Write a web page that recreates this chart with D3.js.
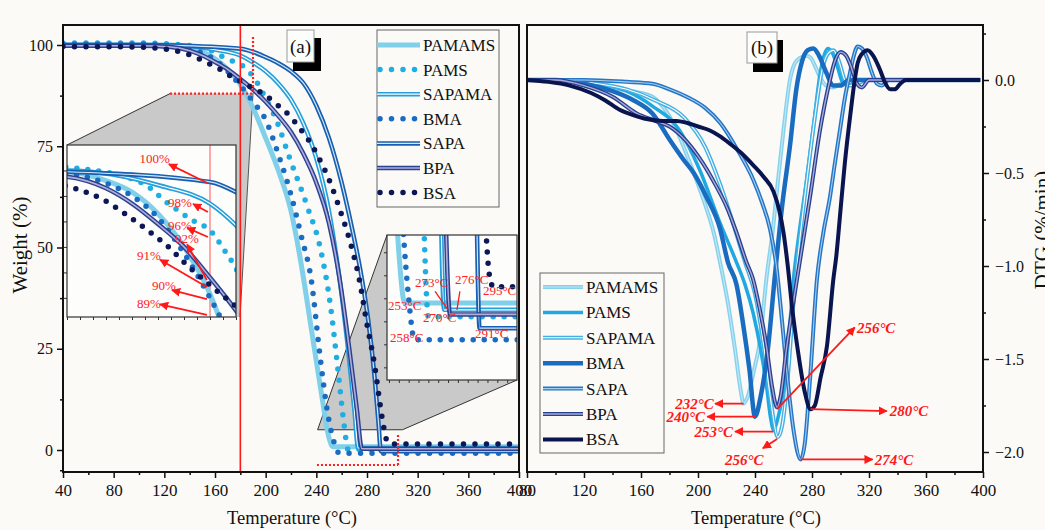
<!DOCTYPE html>
<html><head><meta charset="utf-8">
<script src="https://cdn.jsdelivr.net/npm/d3@7"></script>
<style>body{margin:0;background:#fbfaf7}svg{display:block}</style>
</head><body>
<svg id="c" width="1045" height="530"></svg>
<script>
// ---------------- DATA ----------------
const seriesNames = ["PAMAMS","PAMS","SAPAMA","BMA","SAPA","BPA","BSA"];
const tempTicksA = [40,80,120,160,200,240,280,320,360,400];
const tempTicksB = [80,120,160,200,240,280,320,360,400];
const weightTicks = [0,25,50,75,100];
const dtgTicks = [0,-0.5,-1,-1.5,-2];

// TGA (Temperature, Weight %)
const tgaPAMAMS = [[40,100],[100,100],[125,99.9],[140,99.2],[150,98.3],[160,96.6],[170,94],[180,90.3],[190,84.5],[200,77],[210,69],[220,59],[228,46],[236,30],[244,14],[250,3],[253,0.8],[400,0.8]];
const tgaPAMS   = [[40,100.5],[100,100.5],[128,100.2],[154,99],[164,97.4],[174,96],[180,95.3],[186,93.6],[190,92.3],[198,88],[209,81],[219,72],[233,60],[243,50],[251,36],[257,20],[262,6],[265,0.2],[400,0.2]];
const tgaSAPAMA = [[40,100],[100,100],[125,100],[161,98.8],[180,97.4],[190,95.7],[200,93.5],[210,90.5],[220,86.5],[230,80.5],[240,72],[250,59],[258,43],[265,25],[270,10],[273,0.5],[400,0.5]];
const tgaBMA    = [[40,100.2],[100,100.2],[125,99.8],[140,99],[150,98],[160,96.3],[170,93.5],[180,90],[190,86],[200,81.5],[210,73],[220,63],[228,53],[236,42],[243,23],[249,9],[255,1],[258,-0.8],[400,-0.8]];
const tgaSAPA   = [[40,100],[100,100],[125,99.9],[180,99.1],[190,98.3],[200,97],[210,95.5],[220,93.5],[230,90.5],[240,85],[250,77],[260,66],[268,55],[275,44],[281,32],[286,18],[289,7],[291,-0.3],[400,-0.3]];
const tgaBPA    = [[40,99.8],[100,99.8],[125,99.5],[140,98.6],[150,97.4],[160,95.8],[170,94],[180,91.6],[190,89],[200,86],[210,82.5],[220,78.5],[230,73],[240,66],[250,56],[258,43],[266,25],[272,10],[276,0.3],[400,0.3]];
const tgaBSA    = [[40,99.6],[100,99.5],[115,99.2],[128,98.6],[139,97.7],[148,96.5],[156,95.3],[164,94],[171,92.6],[180,91],[189,89.5],[198,88],[210,85],[219,82.5],[228,79],[235,76],[243,71.5],[251,66],[259,59],[267,51],[274,42],[280,31],[286,21],[290,12],[293,6],[296,2],[298,1.5],[400,1.5]];

// DTG (Temperature, %/min)
const dtgPAMAMS = [[80,0],[100,0],[115,-0.01],[130,-0.03],[145,-0.05],[160,-0.07],[168,-0.09],[177,-0.16],[185,-0.27],[192,-0.4],[199,-0.54],[205,-0.67],[211,-0.82],[216,-1.0],[221,-1.2],[226,-1.45],[230,-1.67],[232,-1.74],[235,-1.7],[239,-1.57],[243.5,-1.4],[248,-1.07],[252.6,-0.8],[256,-0.55],[260,-0.27],[264.5,0],[268,0.09],[272,0.12],[276,0.13],[279,0.12],[283,0.06],[286,0.01],[290,-0.03],[295,-0.04],[300,-0.02],[306,0],[398,0]];
const dtgPAMS   = [[80,0],[110,0],[130,-0.02],[150,-0.06],[168,-0.14],[187,-0.27],[201,-0.48],[215.5,-0.77],[227,-0.98],[233,-1.1],[238.6,-1.25],[244,-1.45],[248,-1.64],[251,-1.82],[253,-1.88],[256,-1.82],[262,-1.55],[267,-1.07],[271,-0.82],[276,-0.55],[281,-0.25],[285.6,0.03],[288,0.12],[291,0.17],[294,0.15],[297.5,0.08],[302,-0.02],[306,-0.03],[312,0],[398,0]];
const dtgSAPAMA = [[80,0],[110,0],[130,-0.02],[150,-0.05],[170,-0.11],[190,-0.2],[205,-0.36],[215,-0.55],[225,-0.78],[233,-0.98],[240,-1.15],[246,-1.42],[251,-1.72],[256,-1.92],[259,-1.86],[263,-1.6],[267,-1.2],[272,-0.82],[277,-0.5],[282,-0.2],[287,0.05],[291,0.14],[295,0.16],[299,0.1],[303,0.0],[307,-0.03],[312,-0.02],[318,0],[398,0]];
const dtgBMA    = [[80,0],[100,0],[120,-0.02],[140,-0.06],[155,-0.11],[168,-0.18],[180,-0.32],[190,-0.43],[197,-0.5],[206,-0.63],[215.5,-0.8],[221,-0.98],[227,-1.1],[232,-1.33],[236,-1.55],[240,-1.81],[244,-1.7],[249,-1.45],[254,-1.05],[259,-0.68],[264.6,-0.35],[269,-0.05],[273,0.1],[277,0.16],[281,0.17],[285,0.13],[290,0.04],[295,-0.03],[300,-0.03],[306,0],[398,0]];
const dtgSAPA   = [[80,0],[120,0],[150,-0.01],[168,-0.02],[180,-0.05],[192,-0.09],[205,-0.15],[215.5,-0.23],[228,-0.38],[239,-0.54],[245,-0.66],[250.5,-0.8],[255,-1.0],[259,-1.3],[263,-1.62],[267,-1.88],[272,-2.04],[275,-1.95],[278.6,-1.61],[283.5,-1.07],[288,-0.82],[292.6,-0.63],[296,-0.45],[299.6,-0.27],[303,-0.1],[306.7,0.04],[309,0.12],[312,0.18],[315,0.17],[318.6,0.12],[322,0.04],[325.6,-0.02],[329,-0.03],[334,0],[398,0]];
const dtgBPA    = [[80,0],[100,0],[120,-0.03],[140,-0.09],[157,-0.18],[170,-0.22],[180,-0.25],[192,-0.33],[203.6,-0.45],[212,-0.56],[220,-0.68],[227,-0.82],[234,-0.98],[238.6,-1.07],[243,-1.22],[248,-1.43],[252,-1.65],[255.5,-1.76],[258,-1.7],[262,-1.45],[269.5,-1.07],[278.6,-0.63],[285.6,-0.27],[292.6,0.0],[296,0.1],[300,0.15],[304,0.13],[307,0.08],[311.6,-0.02],[315,-0.04],[320,0],[398,0]];
const dtgBSA    = [[80,0],[95,-0.01],[110,-0.03],[125,-0.07],[135,-0.11],[145,-0.16],[155,-0.19],[164,-0.21],[175,-0.22],[185,-0.22],[192,-0.23],[200,-0.25],[208,-0.27],[215,-0.3],[222,-0.34],[230,-0.39],[239,-0.46],[246,-0.52],[253,-0.6],[257,-0.7],[260,-0.82],[263,-1.0],[266,-1.22],[270,-1.45],[275,-1.68],[279,-1.77],[282,-1.75],[286,-1.6],[290.5,-1.43],[295,-1.07],[297,-0.95],[300,-0.7],[303,-0.45],[307,-0.18],[310,0.0],[312,0.09],[315,0.14],[319,0.16],[323,0.13],[328,0.05],[331,-0.01],[335,-0.05],[338,-0.05],[342,-0.02],[346,0],[398,0]];

// annotations (data coordinates)
const annotB = [
  {label:"232°C", from:[232,-1.74], to:[212,-1.74], text:[211,-1.74], anchor:"end"},
  {label:"240°C", from:[240,-1.81], to:[206.5,-1.81], text:[205,-1.81], anchor:"end"},
  {label:"253°C", from:[253,-1.89], to:[226,-1.89], text:[224.5,-1.89], anchor:"end"},
  {label:"256°C", from:[255.5,-1.93], to:[245.5,-1.98], text:[232.5,-2.04], anchor:"middle"},
  {label:"256°C", from:[255.5,-1.77], to:[310,-1.33], text:[311.5,-1.33], anchor:"start"},
  {label:"280°C", from:[279,-1.77], to:[332.5,-1.78], text:[334.5,-1.78], anchor:"start"},
  {label:"274°C", from:[272,-2.04], to:[322.5,-2.04], text:[324,-2.04], anchor:"start"}
];
const annotL = [
  {label:"100%", from:[179.2,99.0], to:[164.2,100.5], text:[164.6,100.98], anchor:"end"},
  {label:"98%", from:[179.2,96.74], to:[173.5,97.37], text:[163.8,97.53], anchor:"start"},
  {label:"96%", from:[179.2,94.78], to:[171.2,95.49], text:[163.8,95.72], anchor:"start"},
  {label:"92%", from:[178.8,91.4], to:[171.2,94.2], text:[166.5,94.7], anchor:"start"},
  {label:"91%", from:[178.8,90.85], to:[160.8,93.0], text:[151.9,93.37], anchor:"start"},
  {label:"90%", from:[178.8,89.9], to:[165.4,90.6], text:[157.7,91.0], anchor:"start"},
  {label:"89%", from:[178.8,88.66], to:[160.8,89.5], text:[151.9,89.6], anchor:"start"}
];
const annotR = [
  {label:"273°C", text:[258.2,1.71], line:[[268.4,1.3],[275,0.5]]},
  {label:"276°C", text:[278.5,1.80], line:[[281,1.3],[279.5,0.5]]},
  {label:"295°C", text:[292.7,1.36]},
  {label:"253°C", text:[244.5,0.71]},
  {label:"270°C", text:[262.3,0.15]},
  {label:"258°C", text:[245.5,-0.68]},
  {label:"291°C", text:[288.7,-0.51]}
];

// ---------------- STYLES ----------------
const tga = {PAMAMS:tgaPAMAMS,PAMS:tgaPAMS,SAPAMA:tgaSAPAMA,BMA:tgaBMA,SAPA:tgaSAPA,BPA:tgaBPA,BSA:tgaBSA};
const dtg = {PAMAMS:dtgPAMAMS,PAMS:dtgPAMS,SAPAMA:dtgSAPAMA,BMA:dtgBMA,SAPA:dtgSAPA,BPA:dtgBPA,BSA:dtgBSA};
const stA = {
  PAMAMS:{type:"solid",color:"#80d0ea",w:5},
  PAMS:{type:"dot",color:"#1eaee2"},
  SAPAMA:{type:"double",color:"#249fdb",w:4.5,inner:"#ffffff",iw:1.2},
  BMA:{type:"dot",color:"#1a6cc2"},
  SAPA:{type:"double",color:"#175fb0",w:4.5,inner:"#d6e6f6",iw:1.2},
  BPA:{type:"double",color:"#2a4290",w:4.5,inner:"#b2aedc",iw:1.6},
  BSA:{type:"dot",color:"#0c1856"}
};
const stB = {
  PAMAMS:{type:"double",color:"#86d1ec",w:4,inner:"#bfe6f5",iw:1.2},
  PAMS:{type:"solid",color:"#1fa8e2",w:3.5},
  SAPAMA:{type:"double",color:"#45b0e2",w:4,inner:"#ffffff",iw:1.1},
  BMA:{type:"solid",color:"#1a6cc0",w:4.5},
  SAPA:{type:"double",color:"#2476c6",w:4,inner:"#a9cdef",iw:1.1},
  BPA:{type:"double",color:"#26418f",w:4,inner:"#aca8d8",iw:1.4},
  BSA:{type:"solid",color:"#0a154f",w:4}
};

const serif = "'Liberation Serif','Times New Roman',serif";
const svg = d3.select("#c");
svg.append("rect").attr("width",1045).attr("height",530).attr("fill","#fbfaf7");

const defs = svg.append("defs");
defs.append("marker").attr("id","ah").attr("viewBox","0 0 10 10").attr("refX",9).attr("refY",5)
  .attr("markerWidth",5).attr("markerHeight",5).attr("orient","auto-start-reverse")
  .append("path").attr("d","M0,0L10,5L0,10z").attr("fill","#ff1a1a");

// ---------------- SCALES ----------------
const PA = {x0:63,x1:519,y0:25,y1:472};
const PB = {x0:527,x1:983,y0:25,y1:472};
const xA = d3.scaleLinear([40,400],[63,519]);
const yA = d3.scaleLinear([0,100],[450,45]);
const xB = d3.scaleLinear([80,400],[527,983]);
const yB = d3.scaleLinear([0,-2],[80,452]);
const insL = {x0:67,x1:236,y0:145,y1:317};
const insR = {x0:387,x1:517,y0:235,y1:380};
const xL = d3.scaleLinear([125,190],[insL.x0,insL.x1]);
const yL = d3.scaleLinear([88.5,102],[insL.y1,insL.y0]);
const xR = d3.scaleLinear([244,310],[insR.x0,insR.x1]);
const yR = d3.scaleLinear([-2.55,3.75],[insR.y1,insR.y0]);

function clip(id,b){defs.append("clipPath").attr("id",id).append("rect")
  .attr("x",b.x0).attr("y",b.y0).attr("width",b.x1-b.x0).attr("height",b.y1-b.y0);}
clip("cA",PA); clip("cB",PB); clip("cL",insL); clip("cR",insR);

function drawLine(g,data,xs,ys,st,dotGap){
  const line = d3.line().x(d=>xs(d[0])).y(d=>ys(d[1])).curve(d3.curveMonotoneX);
  const p = line(data);
  if(st.type==="dot"){
    g.append("path").attr("d",p).attr("fill","none").attr("stroke",st.color)
      .attr("stroke-width",5.5).attr("stroke-linecap","round").attr("stroke-dasharray","0 "+(dotGap||11.5));
  } else {
    g.append("path").attr("d",p).attr("fill","none").attr("stroke",st.color)
      .attr("stroke-width",st.w).attr("stroke-linejoin","round");
    if(st.inner) g.append("path").attr("d",p).attr("fill","none").attr("stroke",st.inner)
      .attr("stroke-width",st.iw).attr("stroke-linejoin","round");
  }
}
function legendSample(g,x0,x1,y,st){
  if(st.type==="dot"){
    g.append("line").attr("x1",x0+3).attr("x2",x1).attr("y1",y).attr("y2",y).attr("stroke",st.color)
      .attr("stroke-width",5.5).attr("stroke-linecap","round").attr("stroke-dasharray","0 11.5");
  } else {
    g.append("line").attr("x1",x0).attr("x2",x1).attr("y1",y).attr("y2",y).attr("stroke",st.color).attr("stroke-width",st.w);
    if(st.inner) g.append("line").attr("x1",x0).attr("x2",x1).attr("y1",y).attr("y2",y).attr("stroke",st.inner).attr("stroke-width",st.iw);
  }
}
function styleAxis(g,fs){
  g.select(".domain").remove();
  g.selectAll("line").attr("stroke","#111").attr("stroke-width",1.5);
  g.selectAll("text").attr("font-family",serif).attr("font-size",fs||16).attr("fill","#111");
}

// ---------------- PANEL A ----------------
const gA = svg.append("g");
// gray zoom polygons
const lp = [[xA(124.5),yA(88)],[xA(190),yA(88)],[insL.x1+4,insL.y1],[insL.x0,insL.y1],[insL.x0,insL.y0]];
gA.append("polygon").attr("points",lp.map(p=>p.join(",")).join(" ")).attr("fill","#c9c9c9");
gA.append("line").attr("x1",lp[0][0]).attr("y1",lp[0][1]).attr("x2",lp[4][0]).attr("y2",lp[4][1]).attr("stroke","#333").attr("stroke-width",1);
gA.append("line").attr("x1",lp[1][0]).attr("y1",lp[1][1]).attr("x2",lp[2][0]).attr("y2",lp[2][1]).attr("stroke","#555").attr("stroke-width",1);
const rp = [[xA(241),yA(5)],[insR.x0,insR.y0],[insR.x0,insR.y1],[insR.x1,insR.y1],[xA(308),yA(5)]];
gA.append("polygon").attr("points",rp.map(p=>p.join(",")).join(" ")).attr("fill","#c9c9c9");
gA.append("line").attr("x1",rp[0][0]).attr("y1",rp[0][1]).attr("x2",rp[1][0]).attr("y2",rp[1][1]).attr("stroke","#333").attr("stroke-width",1);
gA.append("line").attr("x1",rp[4][0]).attr("y1",rp[4][1]).attr("x2",rp[3][0]).attr("y2",rp[3][1]).attr("stroke","#333").attr("stroke-width",1);
gA.append("line").attr("x1",rp[0][0]).attr("y1",rp[0][1]).attr("x2",rp[4][0]).attr("y2",rp[4][1]).attr("stroke","#333").attr("stroke-width",1);

const curvesA = gA.append("g").attr("clip-path","url(#cA)");
seriesNames.forEach(n=>drawLine(curvesA,tga[n],xA,yA,stA[n]));

// red lines
gA.append("line").attr("x1",xA(180)).attr("x2",xA(180)).attr("y1",PA.y0).attr("y2",PA.y1).attr("stroke","#ff1a1a").attr("stroke-width",1.6);
const redDot = (x1,y1,x2,y2)=>gA.append("line").attr("x1",x1).attr("y1",y1).attr("x2",x2).attr("y2",y2)
  .attr("stroke","#ff2020").attr("stroke-width",2.2).attr("stroke-dasharray","2 2");
redDot(xA(190),yA(102),xA(190),yA(88));
redDot(xA(124.5),yA(88),xA(190),yA(88));
redDot(xA(240.5),yA(-3.7),xA(304.5),yA(-3.7));
redDot(xA(304.5),yA(-3.7),xA(304.5),yA(4.2));

// left inset
const gL = gA.append("g");
gL.append("rect").attr("x",insL.x0).attr("y",insL.y0).attr("width",insL.x1-insL.x0).attr("height",insL.y1-insL.y0).attr("fill","#fdfdfc");
const cL = gL.append("g").attr("clip-path","url(#cL)");
cL.append("line").attr("x1",xL(180)).attr("x2",xL(180)).attr("y1",insL.y0).attr("y2",insL.y1).attr("stroke","#ff4040").attr("stroke-width",0.9);
seriesNames.forEach(n=>drawLine(cL,tga[n],xL,yL,stA[n],11));
gL.append("rect").attr("x",insL.x0).attr("y",insL.y0).attr("width",insL.x1-insL.x0).attr("height",insL.y1-insL.y0).attr("fill","none").attr("stroke","#333").attr("stroke-width",1.2);
const lbA = gL.append("g").attr("transform",`translate(0,${insL.y1})`).call(d3.axisBottom(xL).tickValues(d3.range(125,191,5)).tickSize(3).tickFormat(""));
lbA.select(".domain").remove(); lbA.selectAll("line").attr("stroke","#333");
const llA = gL.append("g").attr("transform",`translate(${insL.x0},0)`).call(d3.axisLeft(yL).tickValues(d3.range(90,102,2)).tickSize(3).tickFormat(""));
llA.select(".domain").remove(); llA.selectAll("line").attr("stroke","#333");
annotL.forEach(a=>{
  gL.append("line").attr("x1",xL(a.from[0])).attr("y1",yL(a.from[1])).attr("x2",xL(a.to[0])).attr("y2",yL(a.to[1]))
    .attr("stroke","#ff1a1a").attr("stroke-width",1.8).attr("marker-end","url(#ah)");
  gL.append("text").attr("x",xL(a.text[0])).attr("y",yL(a.text[1])).attr("dy","0.35em").attr("text-anchor",a.anchor)
    .attr("font-family",serif).attr("font-size",13).attr("fill","#ff2020").text(a.label);
});

// right inset
const gR = gA.append("g");
gR.append("rect").attr("x",insR.x0).attr("y",insR.y0).attr("width",insR.x1-insR.x0).attr("height",insR.y1-insR.y0).attr("fill","#fdfdfc");
const cR = gR.append("g").attr("clip-path","url(#cR)");
seriesNames.forEach(n=>drawLine(cR,tga[n],xR,yR,stA[n],11));
annotR.forEach(a=>{
  if(a.line) cR.append("line").attr("x1",xR(a.line[0][0])).attr("y1",yR(a.line[0][1])).attr("x2",xR(a.line[1][0])).attr("y2",yR(a.line[1][1]))
    .attr("stroke","#ff1a1a").attr("stroke-width",1.3);
  cR.append("text").attr("x",xR(a.text[0])).attr("y",yR(a.text[1])).attr("dy","0.35em")
    .attr("font-family",serif).attr("font-size",13).attr("fill","#ff2020").text(a.label);
});
gR.append("rect").attr("x",insR.x0).attr("y",insR.y0).attr("width",insR.x1-insR.x0).attr("height",insR.y1-insR.y0).attr("fill","none").attr("stroke","#333").attr("stroke-width",1.2);
const rbA = gR.append("g").attr("transform",`translate(0,${insR.y1})`).call(d3.axisBottom(xR).tickValues(d3.range(245,310,5)).tickSize(3).tickFormat(""));
rbA.select(".domain").remove(); rbA.selectAll("line").attr("stroke","#333");
const rlA = gR.append("g").attr("transform",`translate(${insR.x0},0)`).call(d3.axisLeft(yR).tickValues(d3.range(-2,4,1)).tickSize(3).tickFormat(""));
rlA.select(".domain").remove(); rlA.selectAll("line").attr("stroke","#333");

// frame + axes A
gA.append("rect").attr("x",PA.x0).attr("y",PA.y0).attr("width",PA.x1-PA.x0).attr("height",PA.y1-PA.y0).attr("fill","none").attr("stroke","#111").attr("stroke-width",2);
styleAxis(gA.append("g").attr("transform",`translate(0,${PA.y1})`).call(d3.axisBottom(xA).tickValues(tempTicksA).tickSize(6).tickPadding(6)),17);
styleAxis(gA.append("g").attr("transform",`translate(0,${PA.y1})`).call(d3.axisBottom(xA).tickValues(d3.range(60,400,40)).tickSize(3).tickFormat("")));
styleAxis(gA.append("g").attr("transform",`translate(${PA.x0},0)`).call(d3.axisLeft(yA).tickValues(weightTicks).tickSize(6).tickPadding(4)),16);
styleAxis(gA.append("g").attr("transform",`translate(${PA.x0},0)`).call(d3.axisLeft(yA).tickValues([-5,12.5,37.5,62.5,87.5]).tickSize(3).tickFormat("")));

// legend A
const lgA = gA.append("g");
lgA.append("rect").attr("x",377).attr("y",30).attr("width",122).attr("height",177).attr("fill","#fbfaf7").attr("stroke","#666").attr("stroke-width",1);
seriesNames.forEach((n,i)=>{
  const y = 45 + i*24.6;
  legendSample(lgA,377,420,y,stA[n]);
  lgA.append("text").attr("x",423).attr("y",y).attr("dy","0.35em").attr("font-family",serif).attr("font-size",17).attr("fill","#111").text(n);
});
// (a) label
gA.append("rect").attr("x",293).attr("y",38).attr("width",28).attr("height",33).attr("fill","#000");
gA.append("rect").attr("x",287).attr("y",30).attr("width",27).attr("height",32).attr("fill","#fdfdfc").attr("stroke","#999").attr("stroke-width",1);
gA.append("text").attr("x",300.5).attr("y",46).attr("dy","0.35em").attr("text-anchor","middle").attr("font-family",serif).attr("font-size",19).attr("fill","#111").text("(a)");

// ---------------- PANEL B ----------------
const gB = svg.append("g");
const curvesB = gB.append("g").attr("clip-path","url(#cB)");
seriesNames.forEach(n=>drawLine(curvesB,dtg[n],xB,yB,stB[n]));
annotB.forEach(a=>{
  gB.append("line").attr("x1",xB(a.from[0])).attr("y1",yB(a.from[1])).attr("x2",xB(a.to[0])).attr("y2",yB(a.to[1]))
    .attr("stroke","#ff1a1a").attr("stroke-width",1.8).attr("marker-end","url(#ah)");
  gB.append("text").attr("x",xB(a.text[0])).attr("y",yB(a.text[1])).attr("dy","0.35em").attr("text-anchor",a.anchor)
    .attr("font-family",serif).attr("font-size",15).attr("font-weight","bold").attr("font-style","italic").attr("fill","#ff1a1a").text(a.label);
});
gB.append("rect").attr("x",PB.x0).attr("y",PB.y0).attr("width",PB.x1-PB.x0).attr("height",PB.y1-PB.y0).attr("fill","none").attr("stroke","#111").attr("stroke-width",2);
styleAxis(gB.append("g").attr("transform",`translate(0,${PB.y1})`).call(d3.axisBottom(xB).tickValues(tempTicksB).tickSize(6).tickPadding(6)),17);
styleAxis(gB.append("g").attr("transform",`translate(0,${PB.y1})`).call(d3.axisBottom(xB).tickValues(d3.range(100,400,40)).tickSize(3).tickFormat("")));
styleAxis(gB.append("g").attr("transform",`translate(${PB.x1},0)`).call(d3.axisRight(yB).tickValues(dtgTicks).tickSize(6).tickPadding(6).tickFormat(d3.format(".1f"))),16);
styleAxis(gB.append("g").attr("transform",`translate(${PB.x1},0)`).call(d3.axisRight(yB).tickValues([0.25,-0.25,-0.75,-1.25,-1.75]).tickSize(3).tickFormat("")));

// legend B
const lgB = gB.append("g");
lgB.append("rect").attr("x",540).attr("y",273).attr("width",124).attr("height",180).attr("fill","#fbfaf7").attr("stroke","#666").attr("stroke-width",1);
seriesNames.forEach((n,i)=>{
  const y = 287 + i*25.4;
  legendSample(lgB,543,583,y,stB[n]);
  lgB.append("text").attr("x",586).attr("y",y).attr("dy","0.35em").attr("font-family",serif).attr("font-size",17).attr("fill","#111").text(n);
});
// (b) label
gB.append("rect").attr("x",753).attr("y",40).attr("width",30).attr("height",32).attr("fill","#000");
gB.append("rect").attr("x",747).attr("y",32).attr("width",30).attr("height",31).attr("fill","#fdfdfc").attr("stroke","#999").attr("stroke-width",1);
gB.append("text").attr("x",762).attr("y",47.5).attr("dy","0.35em").attr("text-anchor","middle").attr("font-family",serif).attr("font-size",19).attr("fill","#111").text("(b)");

// ---------------- TITLES ----------------
svg.append("text").attr("transform","translate(27,245) rotate(-90)").attr("text-anchor","middle")
  .attr("font-family",serif).attr("font-size",21).attr("fill","#111").text("Weight (%)");
svg.append("text").attr("transform","translate(1049,230) rotate(-90)").attr("text-anchor","middle")
  .attr("font-family",serif).attr("font-size",21).attr("fill","#111").text("DTG (%/min)");
svg.append("text").attr("x",292).attr("y",524).attr("text-anchor","middle")
  .attr("font-family",serif).attr("font-size",18.5).attr("fill","#111").text("Temperature (°C)");
svg.append("text").attr("x",756).attr("y",524).attr("text-anchor","middle")
  .attr("font-family",serif).attr("font-size",18.5).attr("fill","#111").text("Temperature (°C)");
</script>
</body></html>
